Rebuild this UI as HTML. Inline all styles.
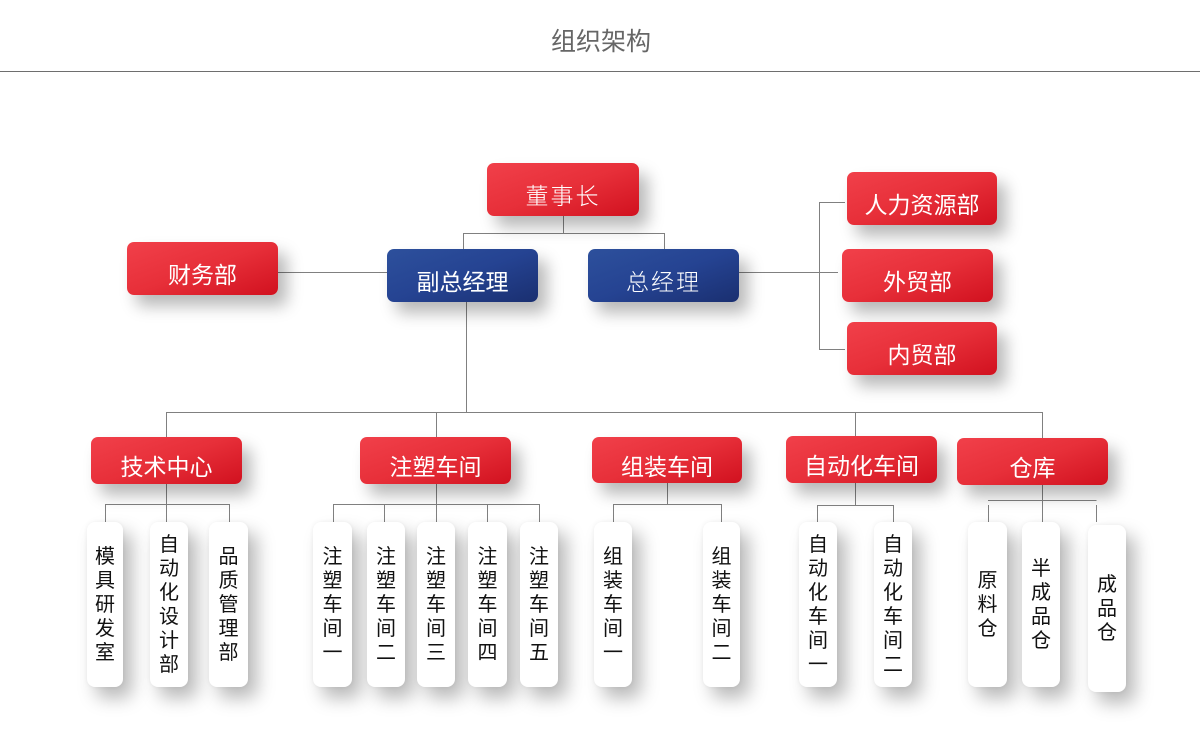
<!DOCTYPE html>
<html>
<head>
<meta charset="utf-8">
<style>
  html,body{margin:0;padding:0;background:#fff;}
  body{width:1200px;height:742px;position:relative;overflow:hidden;
       font-family:"Liberation Sans","Noto Sans CJK SC","WenQuanYi Zen Hei",sans-serif;}
  .title{position:absolute;left:0;width:1202px;top:26px;text-align:center;font-size:25px;line-height:32px;color:#666;}
  .rule{position:absolute;left:0;top:71px;width:1200px;height:1px;background:#6e6e6e;}
  svg.lines{position:absolute;left:0;top:0;z-index:1;}
  .box{position:absolute;z-index:2;border-radius:7px;color:#fff;font-size:23px;
       display:flex;align-items:center;justify-content:center;box-sizing:border-box;padding-top:9px;
       box-shadow:9px 11px 16px rgba(0,0,0,0.28);}
  .red{background:linear-gradient(160deg,#f1404a 0%,#e72f39 50%,#d1111f 100%);}
  .blue{background:linear-gradient(160deg,#2d509c 0%,#254392 50%,#1a2f70 100%);}
  .thin{font-weight:300;letter-spacing:2px;}
  .leaf{position:absolute;z-index:2;background:#fff;border-radius:8px;
        box-shadow:9px 11px 18px rgba(0,0,0,0.28),0 0 4px rgba(0,0,0,0.06);
        display:flex;align-items:center;justify-content:center;
        font-size:20px;line-height:24px;color:#111;text-align:center;}
  .leaf span{display:block;width:22px;}
</style>
</head>
<body>
<div class="title">组织架构</div>
<div class="rule"></div>

<svg class="lines" width="1200" height="742" viewBox="0 0 1200 742">
  <g stroke="#808080" stroke-width="1" fill="none" shape-rendering="crispEdges">
    <line x1="563.5" y1="216" x2="563.5" y2="233.5"/>
    <line x1="463" y1="233.5" x2="664.5" y2="233.5"/>
    <line x1="463.5" y1="233" x2="463.5" y2="249"/>
    <line x1="664.5" y1="233" x2="664.5" y2="249"/>
    <line x1="278" y1="272.5" x2="387" y2="272.5"/>
    <line x1="466.5" y1="302" x2="466.5" y2="412"/>
    <line x1="739" y1="272.5" x2="838" y2="272.5"/>
    <line x1="819.5" y1="202" x2="819.5" y2="349.5"/>
    <line x1="819" y1="202.5" x2="845" y2="202.5"/>
    <line x1="819" y1="349.5" x2="845" y2="349.5"/>
    <line x1="166" y1="412.5" x2="1042.5" y2="412.5"/>
    <line x1="166.5" y1="412" x2="166.5" y2="437"/>
    <line x1="436.5" y1="412" x2="436.5" y2="437"/>
    <line x1="855.5" y1="412" x2="855.5" y2="436"/>
    <line x1="1042.5" y1="412" x2="1042.5" y2="438"/>
    <line x1="166.5" y1="484" x2="166.5" y2="522"/>
    <line x1="105" y1="504.5" x2="229.5" y2="504.5"/>
    <line x1="105.5" y1="504" x2="105.5" y2="522"/>
    <line x1="229.5" y1="504" x2="229.5" y2="522"/>
    <line x1="436.5" y1="484" x2="436.5" y2="522"/>
    <line x1="333" y1="504.5" x2="539.5" y2="504.5"/>
    <line x1="333.5" y1="504" x2="333.5" y2="522"/>
    <line x1="384.5" y1="504" x2="384.5" y2="522"/>
    <line x1="487.5" y1="504" x2="487.5" y2="522"/>
    <line x1="539.5" y1="504" x2="539.5" y2="522"/>
    <line x1="667.5" y1="483" x2="667.5" y2="504.5"/>
    <line x1="613" y1="504.5" x2="721.5" y2="504.5"/>
    <line x1="613.5" y1="504" x2="613.5" y2="522"/>
    <line x1="721.5" y1="504" x2="721.5" y2="522"/>
    <line x1="855.5" y1="483" x2="855.5" y2="505.5"/>
    <line x1="817" y1="505.5" x2="893.5" y2="505.5"/>
    <line x1="817.5" y1="505" x2="817.5" y2="522"/>
    <line x1="893.5" y1="505" x2="893.5" y2="522"/>
    <line x1="1042.5" y1="485" x2="1042.5" y2="522"/>
    <line x1="988" y1="500.5" x2="1096.5" y2="500.5"/>
    <line x1="988.5" y1="505" x2="988.5" y2="522"/>
    <line x1="1096.5" y1="505" x2="1096.5" y2="522"/>
  </g>
</svg>

<div class="box red thin" style="left:487px;top:163px;width:152px;height:53px;">董事长</div>
<div class="box blue" style="left:387px;top:249px;width:151px;height:53px;">副总经理</div>
<div class="box blue thin" style="left:588px;top:249px;width:151px;height:53px;">总经理</div>
<div class="box red" style="left:127px;top:242px;width:151px;height:53px;">财务部</div>
<div class="box red" style="left:847px;top:172px;width:150px;height:53px;">人力资源部</div>
<div class="box red" style="left:842px;top:249px;width:151px;height:53px;">外贸部</div>
<div class="box red" style="left:847px;top:322px;width:150px;height:53px;">内贸部</div>

<div class="box red" style="left:91px;top:437px;width:151px;height:47px;">技术中心</div>
<div class="box red" style="left:360px;top:437px;width:151px;height:47px;">注塑车间</div>
<div class="box red" style="left:592px;top:437px;width:150px;height:46px;">组装车间</div>
<div class="box red" style="left:786px;top:436px;width:151px;height:47px;">自动化车间</div>
<div class="box red" style="left:957px;top:438px;width:151px;height:47px;">仓库</div>

<div class="leaf" style="left:87px;top:522px;width:36px;height:165px;"><span>模<br>具<br>研<br>发<br>室</span></div>
<div class="leaf" style="left:150px;top:522px;width:38px;height:165px;"><span>自<br>动<br>化<br>设<br>计<br>部</span></div>
<div class="leaf" style="left:209px;top:522px;width:39px;height:165px;"><span>品<br>质<br>管<br>理<br>部</span></div>

<div class="leaf" style="left:313px;top:522px;width:39px;height:165px;"><span>注<br>塑<br>车<br>间<br>一</span></div>
<div class="leaf" style="left:367px;top:522px;width:38px;height:165px;"><span>注<br>塑<br>车<br>间<br>二</span></div>
<div class="leaf" style="left:417px;top:522px;width:38px;height:165px;"><span>注<br>塑<br>车<br>间<br>三</span></div>
<div class="leaf" style="left:468px;top:522px;width:39px;height:165px;"><span>注<br>塑<br>车<br>间<br>四</span></div>
<div class="leaf" style="left:520px;top:522px;width:38px;height:165px;"><span>注<br>塑<br>车<br>间<br>五</span></div>

<div class="leaf" style="left:594px;top:522px;width:38px;height:165px;"><span>组<br>装<br>车<br>间<br>一</span></div>
<div class="leaf" style="left:703px;top:522px;width:37px;height:165px;"><span>组<br>装<br>车<br>间<br>二</span></div>

<div class="leaf" style="left:799px;top:522px;width:38px;height:165px;"><span>自<br>动<br>化<br>车<br>间<br>一</span></div>
<div class="leaf" style="left:874px;top:522px;width:38px;height:165px;"><span>自<br>动<br>化<br>车<br>间<br>二</span></div>

<div class="leaf" style="left:968px;top:522px;width:39px;height:165px;"><span>原<br>料<br>仓</span></div>
<div class="leaf" style="left:1022px;top:522px;width:38px;height:165px;"><span>半<br>成<br>品<br>仓</span></div>
<div class="leaf" style="left:1088px;top:525px;width:38px;height:167px;"><span>成<br>品<br>仓</span></div>

</body>
</html>
